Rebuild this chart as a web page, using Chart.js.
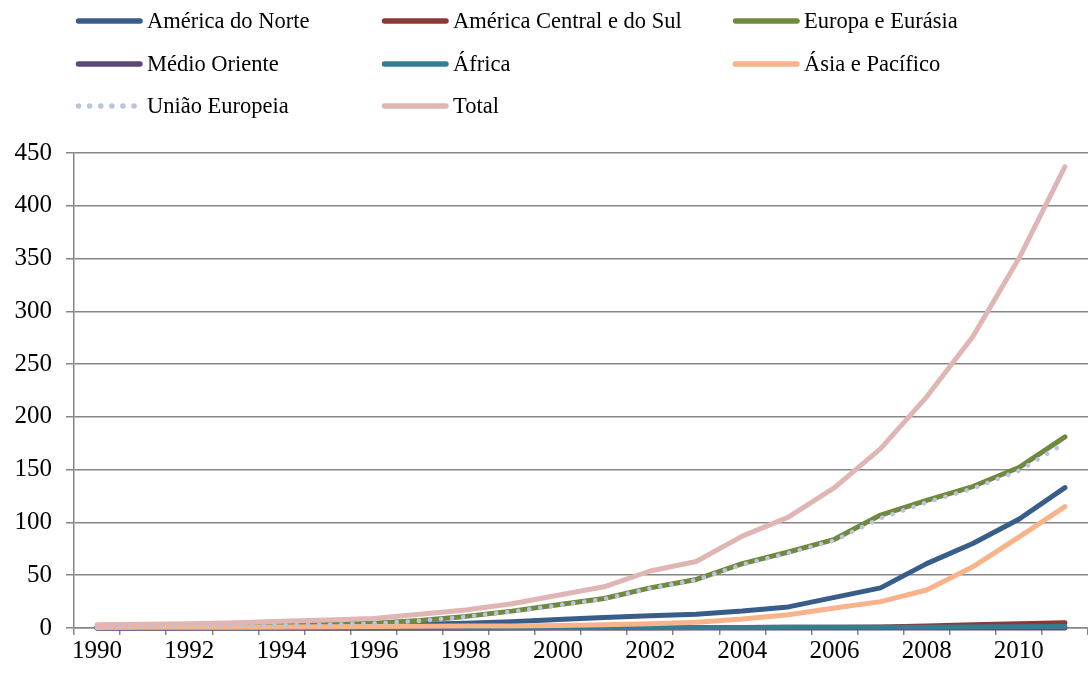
<!DOCTYPE html>
<html>
<head>
<meta charset="utf-8">
<script src="https://cdn.jsdelivr.net/npm/chart.js@4.4.1/dist/chart.umd.min.js"></script>
<style>
  html, body { margin: 0; padding: 0; background: #ffffff; }
  #wrap { position: relative; width: 1088px; height: 673px; }
</style>
</head>
<body>
<div id="wrap"><canvas id="c" width="1088" height="673"></canvas></div>
<script>
// ---- Data ----
const years = [1990,1991,1992,1993,1994,1995,1996,1997,1998,1999,2000,2001,2002,2003,2004,2005,2006,2007,2008,2009,2010,2011];

const americaNorte   = [1, 1.2, 1.4, 1.6, 1.8, 2, 2.5, 3.5, 4.5, 6, 8, 10, 11.5, 13, 16, 20, 29, 38, 61, 80, 103, 133];
const americaCentral = [0.1, 0.1, 0.1, 0.1, 0.1, 0.1, 0.1, 0.1, 0.1, 0.2, 0.2, 0.3, 0.3, 0.4, 0.5, 0.6, 0.8, 1, 2, 3, 4, 5];
const europaEurasia  = [1, 1.2, 1.5, 2, 3, 3.5, 4.5, 7, 11, 16, 22, 28, 38, 46, 61, 72, 84, 107, 121, 134, 152, 181];
const medioOriente   = [0, 0, 0, 0, 0, 0, 0, 0, 0, 0, 0, 0, 0, 0, 0, 0, 0, 0, 0, 0, 0, 0.1];
const africa         = [0.2, 0.2, 0.2, 0.2, 0.2, 0.3, 0.3, 0.3, 0.3, 0.3, 0.4, 0.4, 0.5, 0.5, 0.5, 0.6, 0.6, 0.7, 0.8, 1, 1.2, 1.5];
const asiaPacifico   = [0.5, 0.6, 0.7, 0.8, 1, 1.2, 1.4, 1.6, 1.8, 2, 2.3, 3, 4, 5.5, 8.5, 12.5, 19, 25, 36, 58, 86, 115];
const uniaoEuropeia  = [0.8, 1, 1.3, 1.8, 2.7, 3.3, 4.3, 6.8, 10.7, 15.5, 21.5, 27.5, 37.5, 45.5, 60, 71, 83, 104, 119, 132, 149, 175];
const total          = [3, 3.5, 4, 5, 6.5, 7.5, 9, 13, 17, 23, 31, 39, 54, 63, 87, 105, 133, 170, 219, 276, 350, 437];

const seriesNames = ['América do Norte','América Central e do Sul','Europa e Eurásia','Médio Oriente','África','Ásia e Pacífico','União Europeia','Total'];
const seriesValues = [americaNorte, americaCentral, europaEurasia, medioOriente, africa, asiaPacifico, uniaoEuropeia, total];
const seriesColors = ['#385d8a','#8c3836','#71893f','#5c4776','#357d91','#f9b38a','#b9c5de','#e0b6b5'];

const yTicks = [0, 50, 100, 150, 200, 250, 300, 350, 400, 450];
const xLabels = years.map(String);

const FONT = '"Liberation Serif", "Times New Roman", serif';
const GRID = '#868686';

const datasets = seriesNames.map((name, i) => {
  const isDotted = name === 'União Europeia';
  return {
    label: name,
    data: seriesValues[i],
    borderColor: seriesColors[i],
    backgroundColor: seriesColors[i],
    borderWidth: isDotted ? 4.6 : 5,
    borderDash: isDotted ? [0.1, 11] : [],
    borderCapStyle: 'round',
    borderJoinStyle: 'round',
    pointRadius: 0,
    tension: 0,
    fill: false,
    clip: false,
    order: seriesNames.length - 1 - i
  };
});

const gridLegend = {
  id: 'gridLegend',
  afterDraw(chart) {
    const ctx = chart.ctx;
    const cols = [76, 382, 733];
    const rows = [21, 64, 106];
    chart.data.datasets.forEach((ds, i) => {
      const x = cols[i % 3];
      const y = rows[Math.floor(i / 3)];
      ctx.save();
      ctx.strokeStyle = ds.borderColor;
      ctx.lineWidth = 5.5;
      ctx.lineCap = 'round';
      ctx.setLineDash(ds.borderDash && ds.borderDash.length ? [0.1, 11] : []);
      ctx.beginPath();
      ctx.moveTo(x + 2.5, y);
      ctx.lineTo(x + 64, y);
      ctx.stroke();
      ctx.setLineDash([]);
      ctx.fillStyle = '#000';
      ctx.font = '22.5px ' + FONT;
      ctx.textBaseline = 'middle';
      ctx.textAlign = 'left';
      ctx.fillText(ds.label, x + 71, y + 1);
      ctx.restore();
    });
  }
};

new Chart(document.getElementById('c'), {
  type: 'line',
  data: { labels: xLabels, datasets },
  options: {
    responsive: false,
    animation: false,
    events: [],
    layout: { padding: { top: 153, left: 0, right: 0, bottom: 0 } },
    plugins: { legend: { display: false }, tooltip: { enabled: false }, title: { display: false } },
    scales: {
      x: {
        type: 'category',
        offset: true,
        grid: { offset: true, drawOnChartArea: false, drawTicks: true, tickLength: 7, color: GRID, lineWidth: 1.5 },
        border: { display: true, color: GRID, width: 1.5 },
        ticks: {
          autoSkip: false, maxRotation: 0, minRotation: 0, padding: 1, color: '#000',
          font: { family: FONT, size: 25 },
          callback: (v, i) => (i % 2 === 0 ? xLabels[i] : '')
        },
        afterFit: (s) => { s.height = 45; }
      },
      y: {
        min: yTicks[0],
        max: yTicks[yTicks.length - 1],
        grid: { color: GRID, lineWidth: 1.5, tickLength: 8, drawTicks: true },
        border: { display: true, color: GRID, width: 1.5 },
        ticks: {
          stepSize: yTicks[1] - yTicks[0], padding: 14, color: '#000',
          font: { family: FONT, size: 25 }
        },
        afterFit: (s) => { s.width = 74; }
      }
    }
  },
  plugins: [gridLegend]
});
</script>
</body>
</html>
